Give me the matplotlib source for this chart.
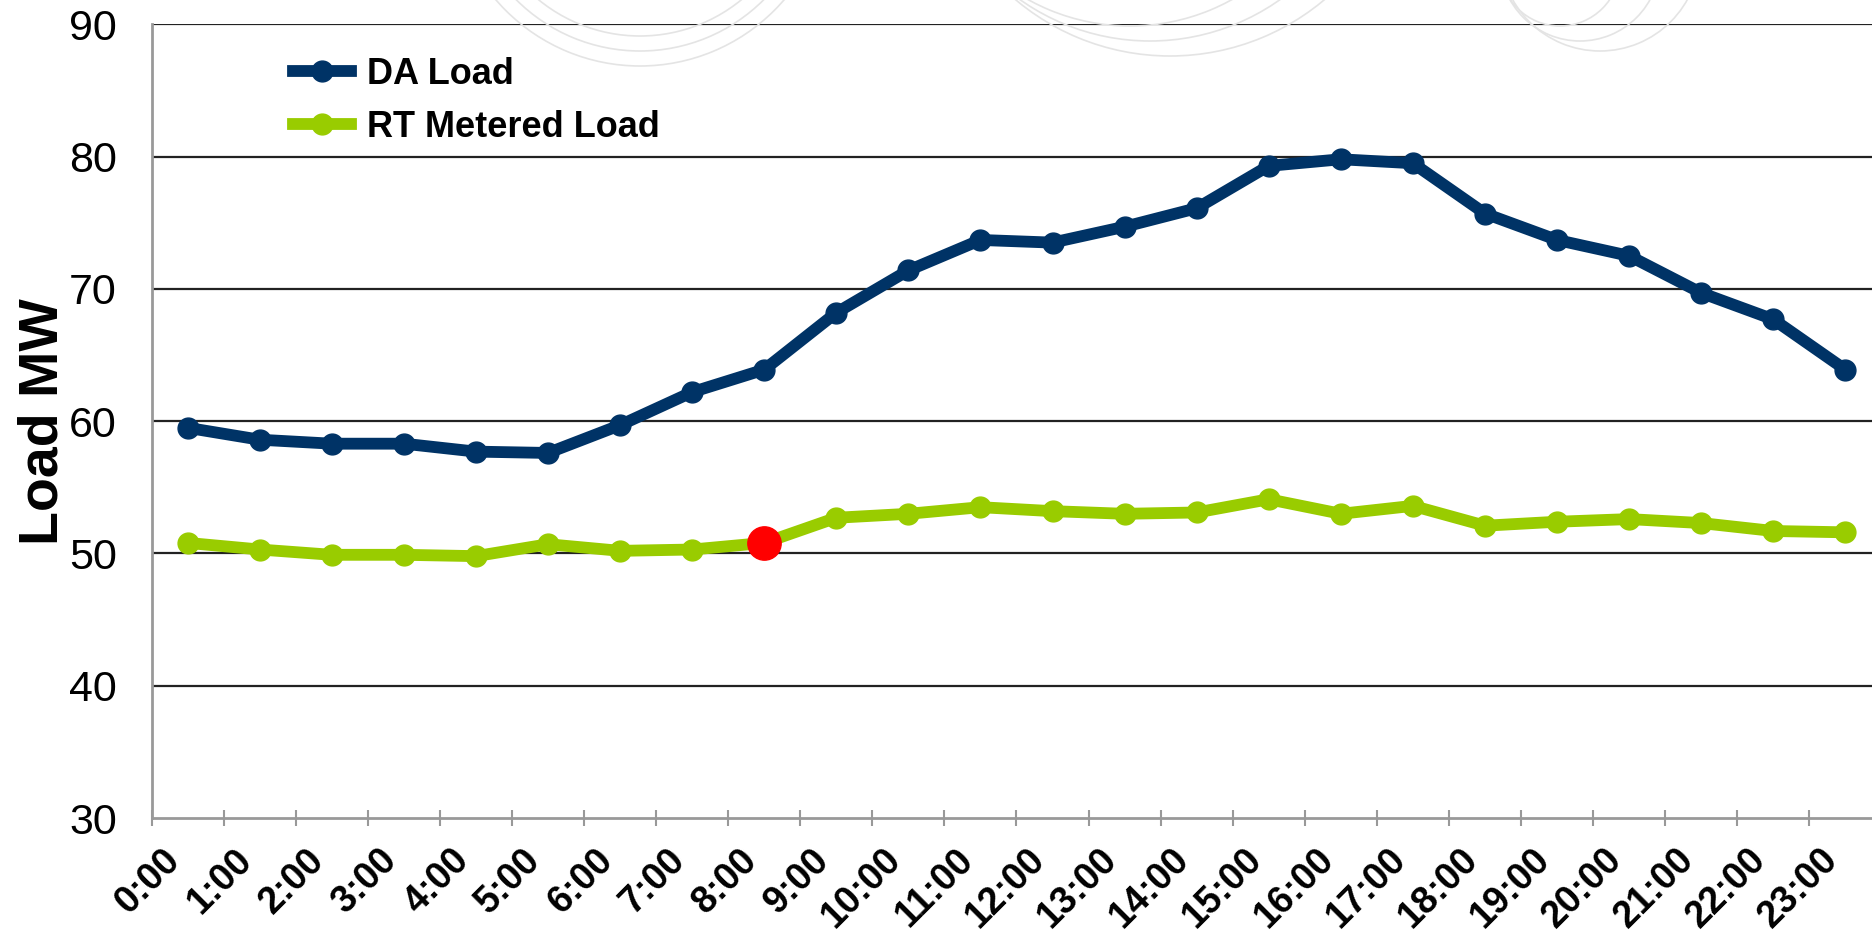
import matplotlib
matplotlib.use("Agg")
import matplotlib.pyplot as plt
from matplotlib.lines import Line2D
from matplotlib.patches import Arc
import numpy as np

hours = ["0:00", "1:00", "2:00", "3:00", "4:00", "5:00", "6:00", "7:00", "8:00", "9:00",
         "10:00", "11:00", "12:00", "13:00", "14:00", "15:00", "16:00", "17:00", "18:00",
         "19:00", "20:00", "21:00", "22:00", "23:00"]
da_load = [59.5, 58.6, 58.3, 58.3, 57.7, 57.6, 59.7, 62.2, 63.9, 68.2, 71.4, 73.7,
           73.5, 74.7, 76.1, 79.3, 79.8, 79.5, 75.7, 73.7, 72.5, 69.7, 67.7, 63.9]
rt_load = [50.8, 50.3, 49.9, 49.9, 49.8, 50.7, 50.2, 50.3, 50.8, 52.7, 53.0, 53.5,
           53.2, 53.0, 53.1, 54.1, 53.0, 53.6, 52.1, 52.4, 52.6, 52.3, 51.7, 51.6]
highlight_idx = 8
y_ticks = [30, 40, 50, 60, 70, 80, 90]

FONT = ['Liberation Sans', 'DejaVu Sans']
da_color = '#003366'
rt_color = '#99CC00'

fig = plt.figure(figsize=(18.72, 9.36), dpi=100)
fig.patch.set_facecolor('white')

# faint background watermark arcs at top
for cx, cy, r in [(640, 1060, 160), (640, 1060, 175), (640, 1060, 190),
                  (1130, 1120, 210), (1150, 1120, 225), (1170, 1120, 240),
                  (1560, 970, 60), (1580, 975, 80), (1600, 985, 100)]:
    arc = Arc((cx, cy), 2 * r, 2 * r, color='#e4e4e4', lw=1.2,
              transform=None, zorder=0)
    fig.patches.append(arc)

ax = fig.add_axes([0.081, 0.126, 0.924, 0.848])
x = np.arange(len(hours))

ax.plot(x, da_load, color=da_color, lw=8.5, marker='o', ms=15, zorder=3,
        solid_joinstyle='round', clip_on=False)
ax.plot(x, rt_load, color=rt_color, lw=8.5, marker='o', ms=15, zorder=3,
        solid_joinstyle='round', clip_on=False)
ax.plot([x[highlight_idx]], [rt_load[highlight_idx]], marker='o', ms=24,
        color='#ff0000', lw=0, zorder=4)

ax.set_xlim(-0.5, len(hours) - 0.5)
ax.set_ylim(30, 90)
ax.set_yticks(y_ticks)
ax.set_yticklabels([str(v) for v in y_ticks], family=FONT, fontsize=31)
ax.tick_params(axis='y', length=0, pad=25)

ax.set_xticks(x)
ax.set_xticklabels(hours, rotation=45, ha='right', va='top', family=FONT,
                   fontsize=27, fontweight='bold')
ax.tick_params(axis='x', which='major', length=0, pad=17)
ax.set_xticks(np.arange(-0.5, len(hours), 1.0), minor=True)
ax.tick_params(axis='x', which='minor', direction='inout', length=11,
               width=1.5, color='#999999')

for v in y_ticks[1:]:
    ax.axhline(v, color='#222222', lw=1.6, zorder=1)

for s in ['top', 'right']:
    ax.spines[s].set_visible(False)
for s in ['left', 'bottom']:
    ax.spines[s].set_color('#999999')
    ax.spines[s].set_linewidth(2)

ax.set_ylabel('Load MW', fontsize=40, fontweight='bold', family=FONT,
              labelpad=0)

handles = [Line2D([0], [0], color=da_color, lw=8.5, marker='o', ms=15),
           Line2D([0], [0], color=rt_color, lw=8.5, marker='o', ms=15)]
ax.legend(handles, ['DA Load', 'RT Metered Load'], loc='upper left',
          bbox_to_anchor=(0.063, 1.0), frameon=False,
          prop={'family': FONT, 'size': 26, 'weight': 'bold'},
          handlelength=1.6, handletextpad=0.45, labelspacing=0.5)

fig.savefig('out.png', dpi=100)
